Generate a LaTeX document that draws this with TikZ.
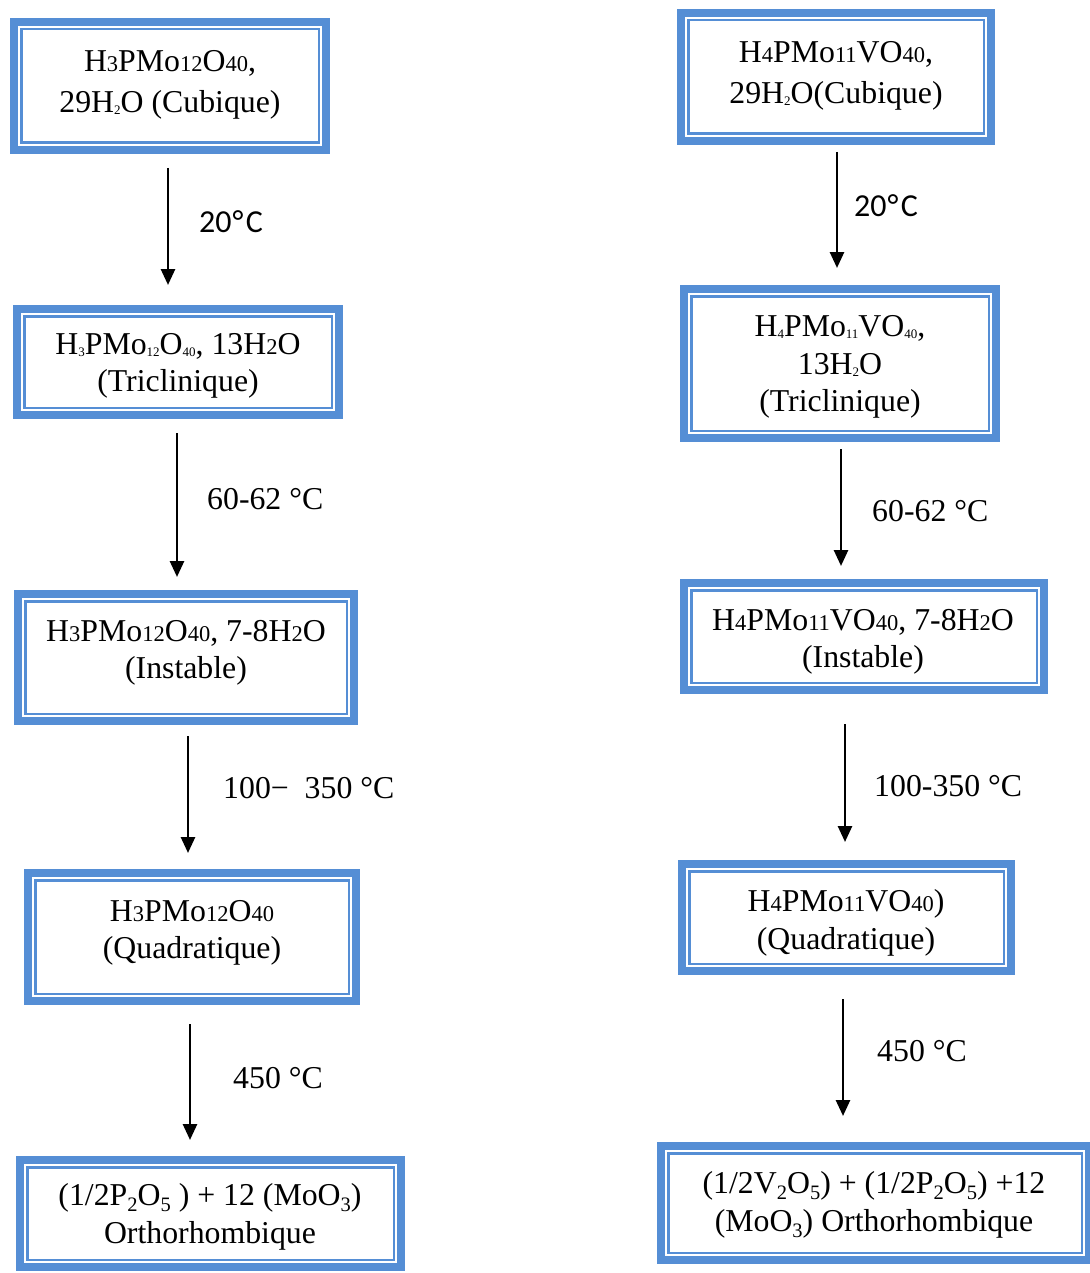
\documentclass[tikz,border=0pt]{standalone}
\usepackage{fontspec}
\setmainfont{Liberation Serif}
\newfontfamily\calib{Carlito}
\usetikzlibrary{arrows.meta}
\definecolor{boxblue}{RGB}{85,142,213}
\newcommand{\bsm}[1]{{\fontsize{22.5}{22.5}\selectfont #1}}
\newcommand{\tsb}[1]{\raisebox{-2pt}{\fontsize{13}{13}\selectfont #1}}
\newcommand{\nsb}[1]{\raisebox{-6pt}{\fontsize{20.5}{20.5}\selectfont #1}}
\newcommand{\mkbox}[5]{%
  \node[box,minimum width={#4-#2-8},minimum height={#5-#3-8}] (#1) at ({(#2+#4)/2},{(#3+#5)/2}) {};
  \draw[inbox] ([xshift=7.25pt,yshift=-7.25pt]#1.north west) rectangle ([xshift=-7.25pt,yshift=7.25pt]#1.south east);}
\begin{document}
\begin{tikzpicture}[x=1pt,y=-1pt,
  box/.style={draw=boxblue,line width=8pt,inner sep=0pt,outer sep=0pt,fill=white},
  inbox/.style={draw=boxblue,line width=2.5pt},
  txt/.style={align=center,inner sep=0pt,font=\fontsize{31.8}{37.5}\selectfont},
  txtw/.style={align=center,inner sep=0pt,font=\fontsize{31.8}{40.5}\selectfont},
  lab/.style={anchor=base west,inner sep=0pt,font=\fontsize{31.8}{37}\selectfont},
  labs/.style={anchor=base west,inner sep=0pt,font=\calib\fontsize{32}{37}\selectfont},
  arr/.style={line width=2.7pt,-{Triangle[length=16pt,width=14pt]}}]
\useasboundingbox (0,0) rectangle (1089,1273);
\fill[white] (0,0) rectangle (1089,1273);
% left column boxes
\mkbox{L1}{10}{18}{330}{154}
\mkbox{L2}{13}{305}{343}{419}
\mkbox{L3}{14}{590}{358}{725}
\mkbox{L4}{24}{869}{360}{1005}
\mkbox{L5}{16}{1156}{405}{1271}
% right column boxes
\mkbox{R1}{677}{9}{995}{145}
\mkbox{R2}{680}{285}{1000}{442}
\mkbox{R3}{680}{579}{1048}{694}
\mkbox{R4}{678}{860}{1015}{975}
\mkbox{R5}{657}{1142}{1093}{1264}
% texts
\node[txtw] (L1t) at (170,85) {H\bsm{3}PMo\bsm{12}O\bsm{40},\\29H\tsb{2}O (Cubique)};
\node[txt] (L2t) at (178,366) {H\tsb{3}PMo\tsb{12}O\tsb{40}, 13H\bsm{2}O\\(Triclinique)};
\node[txt] (L3t) at (186,653) {H\bsm{3}PMo\bsm{12}O\bsm{40}, 7-8H\bsm{2}O\\(Instable)};
\node[txt] (L4t) at (192,933) {H\bsm{3}PMo\bsm{12}O\bsm{40}\\(Quadratique)};
\node[txt] (L5t) at (210,1217) {(1/2P\nsb{2}O\nsb{5} ) + 12 (MoO\nsb{3})\\Orthorhombique};
\node[txtw] (R1t) at (836,76) {H\bsm{4}PMo\bsm{11}VO\bsm{40},\\29H\tsb{2}O(Cubique)};
\node[txt] (R2t) at (840,367) {H\tsb{4}PMo\tsb{11}VO\tsb{40},\\13H\tsb{2}O\\(Triclinique)};
\node[txt] (R3t) at (863,642) {H\bsm{4}PMo\bsm{11}VO\bsm{40}, 7-8H\bsm{2}O\\(Instable)};
\node[txt] (R4t) at (846,923) {H\bsm{4}PMo\bsm{11}VO\bsm{40})\\(Quadratique)};
\node[txt] (R5t) at (874,1205) {(1/2V\nsb{2}O\nsb{5}) + (1/2P\nsb{2}O\nsb{5}) +12\\(MoO\nsb{3}) Orthorhombique};
% arrows left
\coordinate (a1s) at (168,168); \coordinate (a1e) at (168,285);
\coordinate (a2s) at (177,433); \coordinate (a2e) at (177,577);
\coordinate (a3s) at (188,736); \coordinate (a3e) at (188,853);
\coordinate (a4s) at (190,1024); \coordinate (a4e) at (190,1140);
% arrows right
\coordinate (b1s) at (837,152); \coordinate (b1e) at (837,268);
\coordinate (b2s) at (841,449); \coordinate (b2e) at (841,566);
\coordinate (b3s) at (845,724); \coordinate (b3e) at (845,842);
\coordinate (b4s) at (843,999); \coordinate (b4e) at (843,1116);
\foreach \s/\e in {a1s/a1e,a2s/a2e,a3s/a3e,a4s/a4e,b1s/b1e,b2s/b2e,b3s/b3e,b4s/b4e}
  \draw[arr] (\s) -- (\e);
% labels
\node[labs] (la1) at (199,233) {20\kern1pt°\kern2.5ptC};
\node[lab] (la2) at (207,509) {60-62 °C};
\node[lab] (la3) at (223,798) {100−\ \ 350 °C};
\node[lab] (la4) at (233,1088) {450 °C};
\node[labs] (lb1) at (854,217) {20\kern1pt°\kern2.5ptC};
\node[lab] (lb2) at (872,521) {60-62 °C};
\node[lab] (lb3) at (874,796) {100-350 °C};
\node[lab] (lb4) at (877,1061) {450 °C};
\end{tikzpicture}
\end{document}
